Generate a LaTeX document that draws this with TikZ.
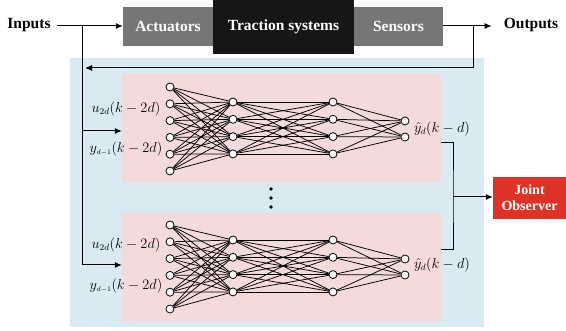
\documentclass[tikz,border=0pt]{standalone}
\usepackage{fontspec}
\setmainfont{Liberation Serif}
\usetikzlibrary{positioning}
\usetikzlibrary{arrows.meta}
\definecolor{bgblue}{RGB}{218,234,242}
\definecolor{netpink}{RGB}{244,218,218}
\definecolor{boxgray}{RGB}{118,118,118}
\definecolor{boxblack}{RGB}{22,22,22}
\definecolor{obsred}{RGB}{222,50,38}
\tikzset{
    lbl/.style = {font=\bfseries\fontsize{15.5}{18}\selectfont, inner sep=0pt},
    graybox/.style = {rectangle, fill=boxgray, text=white, font=\bfseries\fontsize{15.5}{18}\selectfont, minimum height=39pt},
    blackbox/.style = {rectangle, fill=boxblack, text=white, font=\bfseries\fontsize{15.5}{18}\selectfont, minimum height=54pt},
    obsbox/.style = {rectangle, fill=obsred, text=white, align=center, font=\bfseries\fontsize{14}{16}\selectfont, minimum width=73pt, minimum height=42pt, inner sep=0pt},
    netbox/.style = {rectangle, fill=netpink, minimum width=319pt, minimum height=108pt},
    neuron/.style = {circle, draw=black, fill=white, inner sep=0pt, minimum size=8pt, line width=0.8pt},
    sig/.style = {font=\fontsize{13.5}{15}\selectfont, inner sep=0pt},
    link/.style = {-, line width=0.75pt},
    wire/.style = {-, line width=1pt},
    flow/.style = {-{Latex[length=7pt,width=6pt]}, line width=1pt},
}
\begin{document}
\begin{tikzpicture}[x=1pt,y=-1pt]
\useasboundingbox (0,0) rectangle (566,331);
\fill[bgblue] (70,58) rectangle (484,327);
% plant
\node[lbl] (in) at (29,25) {Inputs};
\node[graybox, minimum width=90pt] (act) at (168,26.5) {Actuators};
\node[blackbox, minimum width=141pt] (tra) at (283.5,27) {Traction systems};
\node[graybox, minimum width=89pt] (sen) at (398.5,26.5) {Sensors};
\node[lbl] (out) at (531,25) {Outputs};
\coordinate (tapin) at (82,26);
\coordinate (tapout) at (473,26);
\draw[flow] ([xshift=6pt]in.east |- tapin) -- (act.west |- tapin);
\draw[flow] (sen.east |- tapout) -- ([xshift=-12pt]out.west |- tapout);
% networks
\node[netbox] (net1) at (281.5,128) {};
\node[netbox] (net2) at (281.5,267) {};
\foreach \n/\off in {1/0,2/138}{
  \foreach \k in {1,...,6}
    \node[neuron] (a\n-\k) at (170,{87+16.8*(\k-1)+\off}) {};
  \foreach \k in {1,...,4}{
    \node[neuron] (b\n-\k) at (233,{102+17.3*(\k-1)+\off}) {};
    \node[neuron] (c\n-\k) at (333,{102+17.3*(\k-1)+\off}) {};
  }
  \foreach \k in {1,2}
    \node[neuron] (d\n-\k) at (405,{121+16*(\k-1)+\off}) {};
  \foreach \i in {1,...,6}
    \foreach \j in {1,...,4}
      \draw[link] (a\n-\i) -- (b\n-\j);
  \foreach \i in {1,...,4}
    \foreach \j in {1,...,4}
      \draw[link] (b\n-\i) -- (c\n-\j);
  \foreach \i in {1,...,4}
    \foreach \j in {1,2}
      \draw[link] (c\n-\i) -- (d\n-\j);
}
% signals
\node[sig] (u1) at (126,109) {$u_{2d}(k-2d)$};
\node[sig] (y1) at (126,149) {$y_{\scriptscriptstyle d-1}(k-2d)$};
\node[sig] (o1) at (442,129) {$\hat{y}_{d}(k-d)$};
\node[sig] (u2) at (126,245) {$u_{2d}(k-2d)$};
\node[sig] (y2) at (126,286) {$y_{\scriptscriptstyle d-1}(k-2d)$};
\node[sig] (o2) at (442,265) {$\hat{y}_{d}(k-d)$};
\foreach \yy in {189,198,207}
  \fill (271,\yy) circle (1.8pt);
% input taps
\coordinate (inmid) at (82,131);
\coordinate (inbot) at (82,265);
\draw[wire] (tapin) -- (inbot);
\draw[flow] (inmid) -- (inmid -| net1.west);
\draw[flow] (inbot) -- (inbot -| net2.west);
% feedback
\coordinate (fb) at (473,68);
\coordinate (fbend) at (85,68);
\draw[flow] (tapout) -- (fb) -- (fbend);
% observer
\node[obsbox] (obs) at (529.5,198) {Joint\\Observer};
\coordinate (br1) at (441,143);
\coordinate (br2) at (441,250);
\coordinate (mrg) at (453,197);
\draw[wire] (br1) -| (mrg) |- (br2);
\draw[flow] (mrg) -- (mrg -| obs.west);
\end{tikzpicture}
\end{document}
